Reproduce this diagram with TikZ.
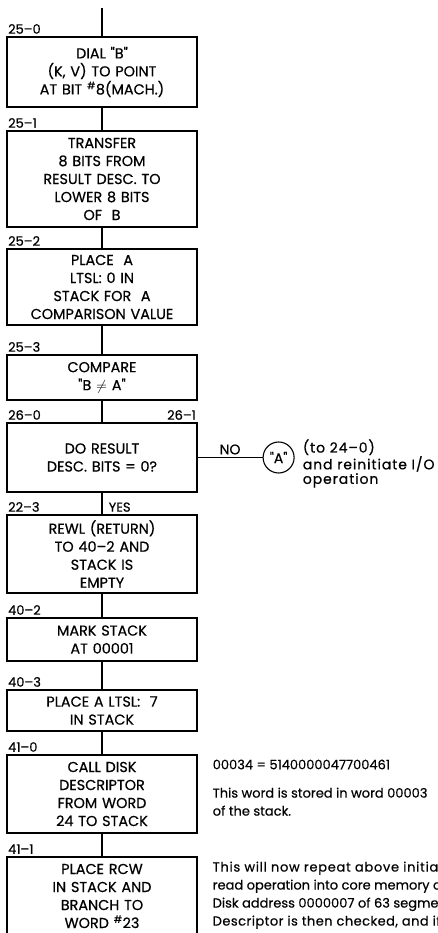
\documentclass[tikz,border=0pt]{standalone}
\usepackage{fontspec}
\setmainfont{Poppins}[FakeBold=0.5]
\usetikzlibrary{positioning}
\newcommand{\qm}{\textquotedbl}
\newcommand{\wider}[1]{\addfontfeature{LetterSpace=#1}}
\tikzset{
	stepbox/.style={rectangle, draw=black, line width=1.1pt, align=center, minimum width=190pt, text width=186pt, inner sep=2pt, font=\fontsize{14.4}{18}\selectfont},
	tagtext/.style={inner sep=0.5pt, font=\fontsize{13}{14}\selectfont},
	notetext/.style={inner sep=1pt, align=left, font=\fontsize{13}{18}\selectfont},
	joint/.style={circle, draw=black, line width=1.1pt, minimum size=31pt, inner sep=0pt, font=\fontsize{14}{14}\selectfont},
	flowline/.style={line width=1.1pt, draw=black},
}

\begin{document}
\begin{tikzpicture}
	\useasboundingbox (0,0) rectangle (438pt,-933pt);
	\clip (0,0) rectangle (438pt,-933pt);
	\coordinate (start) at (102pt,-8pt);
	\node[stepbox, minimum height=70pt] (b1) at (102pt,-72pt) {DIAL \qm B\qm\\(K, V) TO POINT\\AT BIT \textsuperscript{\#}8(MACH.)};
	\node[stepbox, minimum height=96pt] (b2) at (102pt,-179pt) {TRANSFER\\8 BITS FROM\\RESULT DESC. TO\\LOWER 8 BITS\\OF\ \ B};
	\node[stepbox, minimum height=76pt] (b3) at (102pt,-287pt) {PLACE\ \ A\\LTSL: 0 IN\\STACK FOR\ \ A\\COMPARISON VALUE};
	\node[stepbox, minimum height=45pt] (b4) at (102pt,-377.5pt) {COMPARE\\\qm B $\neq$ A\qm};
	\node[stepbox, minimum height=69pt] (b5) at (102pt,-457.5pt) {DO RESULT\\DESC. BITS = 0?};
	\node[stepbox, minimum height=78pt] (b6) at (102pt,-554pt) {REWL (RETURN)\\TO 40--2 AND\\STACK IS\\EMPTY};
	\node[stepbox, minimum height=43pt] (b7) at (102pt,-639.5pt) {MARK STACK\\AT 00001};
	\node[stepbox, minimum height=41pt] (b8) at (102pt,-710.5pt) {PLACE A LTSL:\ \ 7\\IN STACK};
	\node[stepbox, minimum height=78pt] (b9) at (102pt,-794pt) {CALL DISK\\DESCRIPTOR\\FROM WORD\\24 TO STACK};
	\node[stepbox, minimum height=78pt] (b10) at (102pt,-896pt) {PLACE RCW\\IN STACK AND\\BRANCH TO\\WORD \textsuperscript{\#}23};
	% step numbers
	\node[tagtext, above right=2pt and 1pt of b1.north west] (t1) {25--0};
	\node[tagtext, above right=2pt and 1pt of b2.north west] (t2) {25--1};
	\node[tagtext, above right=2pt and 1pt of b3.north west] (t3) {25--2};
	\node[tagtext, above right=2pt and 1pt of b4.north west] (t4) {25--3};
	\node[tagtext, above right=2pt and 1pt of b5.north west] (t5) {26--0};
	\node[tagtext, above left=2pt and 1pt of b5.north east] (t5b) {26--1};
	\node[tagtext, above right=2pt and 6pt of b6.north] (yes) {YES};
	\node[tagtext, above right=2pt and 1pt of b6.north west] (t6) {22--3};
	\node[tagtext, above right=2pt and 1pt of b7.north west] (t7) {40--2};
	\node[tagtext, above right=2pt and 1pt of b8.north west] (t8) {40--3};
	\node[tagtext, above right=2pt and 1pt of b9.north west] (t9) {41--0};
	\node[tagtext, above right=2pt and 1pt of b10.north west] (t10) {41--1};
	% exit to A
	\node[joint, right=65pt of b5] (exitA) {\qm A\qm};
	\node[notetext, right=7pt of exitA, yshift=-6pt, font=\fontsize{14}{14.5}\selectfont\wider{6.5}] (n0) {(to 24--0)\\and reinitiate I/O\\operation};
	\node[notetext, below right=4pt and 14pt of b9.north east] (n1) {00034 = 5140000047700461};
	\node[notetext, below=16pt of n1.south west, anchor=north west] (n2) {This word is stored in word 00003\\of the stack.};
	\node[notetext, below right=4pt and 14pt of b10.north east] (n3) {{\wider{5.5}This will now repeat above initiate}\\read operation into core memory of\\Disk address 0000007 of 63 segments.\\{\wider{3.5}Descriptor is then checked, and if}};
	\draw[flowline] (start) -- (b1);
	\draw[flowline] (b1) -- (b2);
	\draw[flowline] (b2) -- (b3);
	\draw[flowline] (b3) -- (b4);
	\draw[flowline] (b4) -- (b5);
	\draw[flowline] (b5) -- (b6);
	\draw[flowline] (b6) -- (b7);
	\draw[flowline] (b7) -- (b8);
	\draw[flowline] (b8) -- (b9);
	\draw[flowline] (b9) -- (b10);
	\draw[flowline] (b5) -- node[tagtext, above=2pt, font=\fontsize{14}{14}\selectfont] (no) {NO} (exitA);
\end{tikzpicture}
\end{document}
